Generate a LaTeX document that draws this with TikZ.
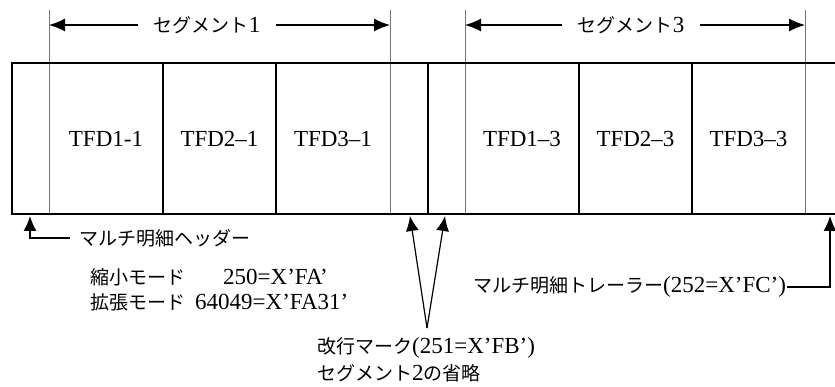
\documentclass[tikz,border=0pt]{standalone}
\usepackage{fontspec}
\setmainfont{Liberation Serif}
\newfontfamily\jpfont{Noto Sans CJK JP}
\newcommand\jtext[1]{{\jpfont\fontsize{19}{22}\selectfont #1}}
\usetikzlibrary{arrows.meta}
\begin{document}
\begin{tikzpicture}[x=1pt,y=-1pt,
  thickline/.style={line width=1.5pt,black},
  thinline/.style={line width=0.8pt,black!55},
  arr/.style={line width=1.2pt,-{Latex[length=15pt,width=13pt]}},
  dimarr/.style={line width=1.2pt,-{Latex[length=16pt,width=13pt]}},
  lbl/.style={inner sep=0pt,font=\fontsize{23}{26}\selectfont},
  cell/.style={inner sep=0pt,font=\fontsize{23}{26}\selectfont},
  dimlbl/.style={inner ysep=0pt,inner xsep=16pt,font=\fontsize{23}{26}\selectfont},
  ]
\useasboundingbox (0,0) rectangle (835,387);

% extension lines (thin)
\foreach \x in {49,390,465,805} \draw[thinline] (\x,10) -- (\x,214);

% record frame
\draw[thickline] (835,63) -- (12,63) -- (12,214) -- (835,214);
\foreach \x in {163,276,428,579,692} \draw[thickline] (\x,63) -- (\x,214);

% cell labels
\node[cell] (t11) at (106,139) {TFD1-1};
\node[cell] (t21) at (219.5,139) {TFD2–1};
\node[cell] (t31) at (333,139) {TFD3–1};
\node[cell] (t13) at (522,139) {TFD1–3};
\node[cell] (t23) at (635.5,139) {TFD2–3};
\node[cell] (t33) at (748.5,139) {TFD3–3};

% dimension arrows
\coordinate (d1l) at (49,25);
\coordinate (d1r) at (390,25);
\coordinate (d3l) at (465,25);
\coordinate (d3r) at (805,25);
\node[dimlbl] (seg1) at (207,25) {\jtext{セグメント}1};
\node[dimlbl] (seg3) at (631,25) {\jtext{セグメント}3};
\draw[dimarr] (seg1.west) -- (d1l);
\draw[dimarr] (seg1.east) -- (d1r);
\draw[dimarr] (seg3.west) -- (d3l);
\draw[dimarr] (seg3.east) -- (d3r);

% header
\node[lbl,anchor=west] (hdr) at (79,238) {\jtext{マルチ明細ヘッダー}};
\coordinate (hc) at (30,238);
\coordinate (ht) at (30,216);
\draw[arr] ([xshift=-9pt]hdr.west) -- (hc) -- (ht);

\node[lbl,anchor=west] (m1a) at (90,277) {\jtext{縮小モード}};
\node[lbl,anchor=west] (m1b) at (223,277) {250=X’FA’};
\node[lbl,anchor=west] (m2a) at (90,302) {\jtext{拡張モード}};
\node[lbl,anchor=west] (m2b) at (195,302) {64049=X’FA31’};

% line feed marks
\coordinate (kv) at (427,328);
\coordinate (k1) at (410,216);
\coordinate (k2) at (445,216);
\draw[arr] (kv) -- (k1);
\draw[arr] (kv) -- (k2);
\node[lbl,anchor=west] (km1) at (317,348) {\jtext{改行マーク}(251=X’FB’)};
\node[lbl,anchor=west] (km2) at (317,373) {\jtext{セグメント}2\jtext{の省略}};

% trailer
\node[lbl,anchor=west] (trl) at (473,287) {\jtext{マルチ明細トレーラー}(252=X’FC’)};
\coordinate (tc) at (830,287);
\coordinate (tt) at (830,216);
\draw[arr] ([xshift=1pt]trl.east) -- (tc) -- (tt);
\end{tikzpicture}
\end{document}
